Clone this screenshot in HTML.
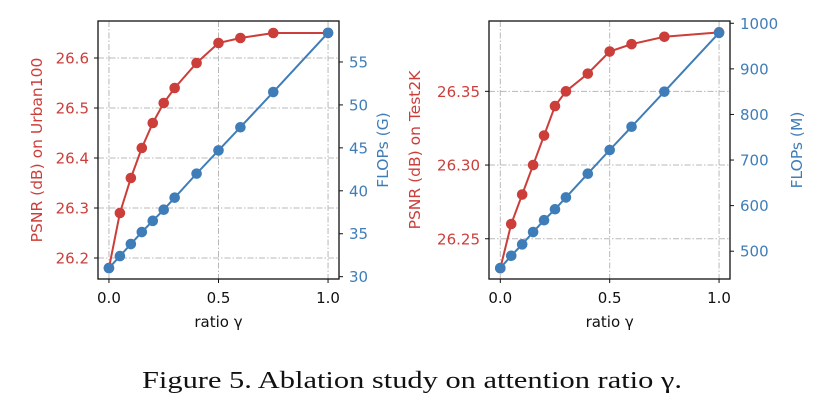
<!DOCTYPE html>
<html><head><meta charset="utf-8"><style>
body{margin:0;background:#fff;}
svg{display:block;}
.sans{font-family:"DejaVu Sans","Liberation Sans",sans-serif;}
</style></head><body>
<svg id="fig" width="822" height="420" viewBox="0 0 822 420">
<text x="412" y="388" text-anchor="middle" font-size="24" textLength="540" lengthAdjust="spacingAndGlyphs" font-family="Liberation Serif, serif" fill="#111">Figure 5. Ablation study on attention ratio γ.</text>
</svg>
<script>
const ratios = [0, 0.05, 0.1, 0.15, 0.2, 0.25, 0.3, 0.4, 0.5, 0.6, 0.75, 1.0];
const psnrUrban = [26.18, 26.29, 26.36, 26.42, 26.47, 26.51, 26.54, 26.59, 26.63, 26.64, 26.65, 26.65];
const flopsUrban = [31.0, 32.4, 33.8, 35.2, 36.5, 37.8, 39.2, 42.0, 44.7, 47.4, 51.5, 58.4];
const psnrTest = [26.23, 26.26, 26.28, 26.30, 26.32, 26.34, 26.35, 26.362, 26.377, 26.382, 26.387, 26.390];
const flopsTest = [463, 490, 515, 542, 568, 592, 618, 670, 722, 773, 850, 979];
const xTicks = [0, 0.5, 1.0];
const xTickLabels = ["0.0", "0.5", "1.0"];
const leftTicksUrban = [26.2, 26.3, 26.4, 26.5, 26.6];
const leftTickLabelsUrban = ["26.2", "26.3", "26.4", "26.5", "26.6"];
const rightTicksUrban = [30, 35, 40, 45, 50, 55];
const leftTicksTest = [26.25, 26.30, 26.35];
const leftTickLabelsTest = ["26.25", "26.30", "26.35"];
const rightTicksTest = [500, 600, 700, 800, 900, 1000];

const NS = "http://www.w3.org/2000/svg";
const svg = document.getElementById('fig');
const RED = "#cc3e3a", BLUE = "#3f7db8";
const FS = 15;
function mk(tag, attrs, parent) {
  const e = document.createElementNS(NS, tag);
  for (const k in attrs) e.setAttribute(k, attrs[k]);
  (parent || svg).appendChild(e);
  return e;
}
function drawPanel(cfg) {
  const g = mk('g', {class: 'sans'});
  
  
  const {x0, x1, y0, y1} = cfg.box;
  const sx = v => x0 + (v - cfg.xd[0]) / (cfg.xd[1] - cfg.xd[0]) * (x1 - x0);
  const sl = v => y1 - (v - cfg.ld[0]) / (cfg.ld[1] - cfg.ld[0]) * (y1 - y0);
  const sr = v => y1 - (v - cfg.rd[0]) / (cfg.rd[1] - cfg.rd[0]) * (y1 - y0);
  cfg.xTicks.forEach(t => {
    const l = mk('line', {x1: sx(t), x2: sx(t), y1: y0, y2: y1, stroke: "#b8b8b8", "stroke-width": 1, "stroke-dasharray": "6 2 1.5 2"}, g);
    
    
  });
  cfg.lTicks.forEach(t => {
    const l = mk('line', {x1: x0, x2: x1, y1: sl(t), y2: sl(t), stroke: "#b8b8b8", "stroke-width": 1, "stroke-dasharray": "6 2 1.5 2"}, g);
    
    
  });
  function series(vals, scale, color, nm) {
    const pts = cfg.xs.map((x, i) => sx(x) + ',' + scale(vals[i])).join(' ');
    const pl = mk('polyline', {points: pts, fill: "none", stroke: color, "stroke-width": 2}, g);
    
    
    cfg.xs.forEach((x, i) => {
      const c = mk('circle', {cx: sx(x), cy: scale(vals[i]), r: 5.3, fill: color}, g);
      
      
    });
  }
  series(cfg.psnr, sl, RED, 'psnr');
  series(cfg.flops, sr, BLUE, 'flops');
  const fr = mk('rect', {x: x0, y: y0, width: x1 - x0, height: y1 - y0, fill: "none", stroke: "#111", "stroke-width": 1.3}, g);
  
  
  cfg.xTicks.forEach((t, i) => {
    mk('line', {x1: sx(t), x2: sx(t), y1: y1, y2: y1 + 4, stroke: "#111"}, g);
    const tx = mk('text', {x: sx(t), y: y1 + 24, "text-anchor": "middle", "font-size": FS, fill: "#111"}, g);
    tx.textContent = cfg.xTickLabels[i];
    
    
  });
  const xl = mk('text', {x: (sx(0) + sx(1)) / 2, y: y1 + 48, "text-anchor": "middle", "font-size": FS, fill: "#111"}, g);
  xl.textContent = "ratio γ";
  
  
  cfg.lTicks.forEach((t, i) => {
    mk('line', {x1: x0 - 4, x2: x0, y1: sl(t), y2: sl(t), stroke: "#111"}, g);
    const tx = mk('text', {x: x0 - 9, y: sl(t) + 5.5, "text-anchor": "end", "font-size": FS, fill: RED}, g);
    tx.textContent = cfg.lTickLabels[i];
    
    
  });
  cfg.rTicks.forEach(t => {
    mk('line', {x1: x1, x2: x1 + 4, y1: sr(t), y2: sr(t), stroke: "#111"}, g);
    const tx = mk('text', {x: x1 + 10, y: sr(t) + 5.5, "text-anchor": "start", "font-size": FS, fill: BLUE}, g);
    tx.textContent = String(t);
    
    
  });
  const cy = (y0 + y1) / 2;
  const ll = mk('text', {x: 0, y: 0, "text-anchor": "middle", "font-size": 15.5, fill: RED, transform: `translate(${cfg.llx},${cy}) rotate(-90)`}, g);
  ll.textContent = cfg.lLabel;
  
  
  const rl = mk('text', {x: 0, y: 0, "text-anchor": "middle", "font-size": 15.5, fill: BLUE, transform: `translate(${cfg.rlx},${cy}) rotate(-90)`}, g);
  rl.textContent = cfg.rLabel;
  
  
}
drawPanel({name: 'urban100-chart', box: {x0: 98, x1: 339, y0: 21, y1: 279},
  xd: [-0.05, 1.05], ld: [26.158, 26.674], rd: [29.73, 59.77],
  xs: ratios, psnr: psnrUrban, flops: flopsUrban, xTicks, xTickLabels,
  lTicks: leftTicksUrban, lTickLabels: leftTickLabelsUrban, rTicks: rightTicksUrban,
  lLabel: "PSNR (dB) on Urban100", rLabel: "FLOPs (G)", llx: 42, rlx: 388});
drawPanel({name: 'test2k-chart', box: {x0: 489, x1: 730, y0: 21, y1: 279},
  xd: [-0.0517, 1.05], ld: [26.2227, 26.3977], rd: [439, 1005],
  xs: ratios, psnr: psnrTest, flops: flopsTest, xTicks, xTickLabels,
  lTicks: leftTicksTest, lTickLabels: leftTickLabelsTest, rTicks: rightTicksTest,
  lLabel: "PSNR (dB) on Test2K", rLabel: "FLOPs (M)", llx: 420, rlx: 802});
</script>
</body></html>
